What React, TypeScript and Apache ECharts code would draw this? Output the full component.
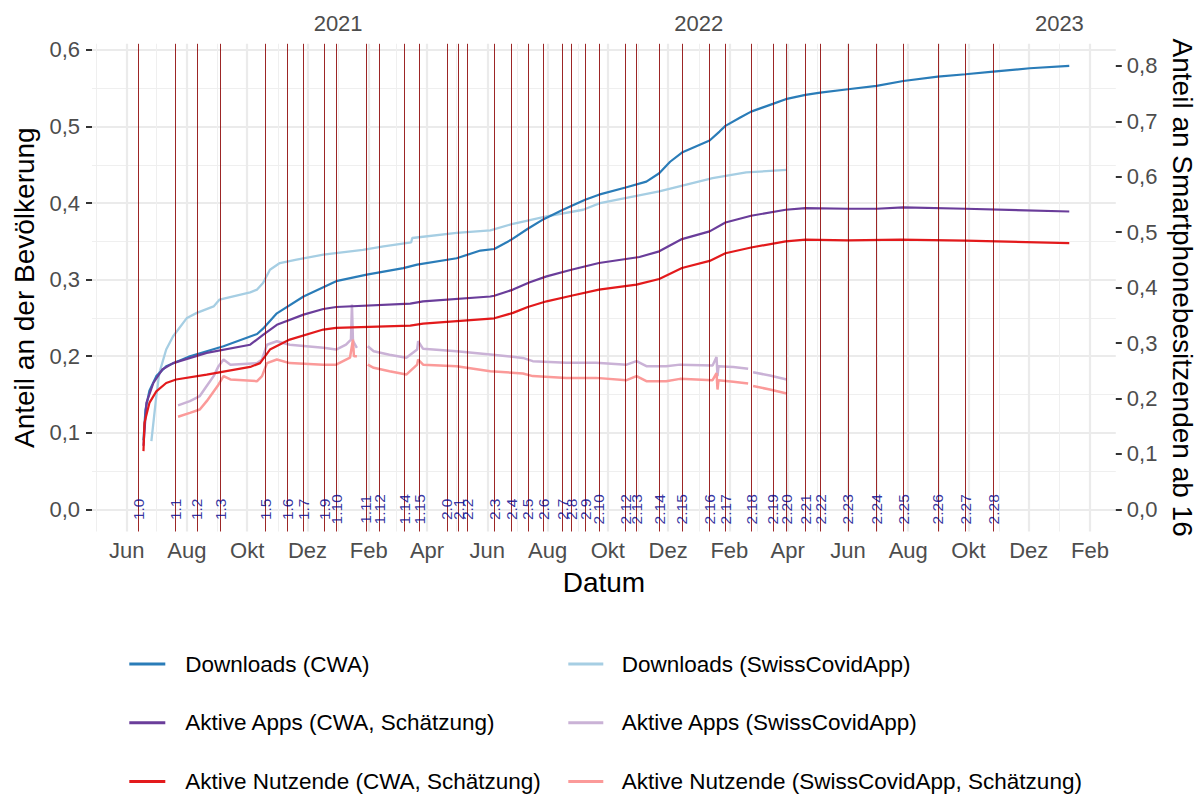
import React, { useEffect, useRef } from 'react';
import * as echarts from 'echarts';

// ---------- data ----------
const releaseDates = ['2020-06-13', '2020-07-20', '2020-08-11', '2020-09-04', '2020-10-19', '2020-11-11', '2020-11-27', '2020-12-18', '2020-12-30', '2021-01-29', '2021-02-12', '2021-03-09', '2021-03-24', '2021-04-21', '2021-05-03', '2021-05-12', '2021-06-08', '2021-06-25', '2021-07-12', '2021-07-28', '2021-08-16', '2021-08-25', '2021-09-08', '2021-09-22', '2021-10-19', '2021-10-30', '2021-11-22', '2021-12-15', '2022-01-12', '2022-01-28', '2022-02-23', '2022-03-17', '2022-03-31', '2022-04-19', '2022-05-04', '2022-06-01', '2022-06-30', '2022-07-27', '2022-08-31', '2022-09-28', '2022-10-26'];
const releaseLabels = ['1.0', '1.1', '1.2', '1.3', '1.5', '1.6', '1.7', '1.9', '1.10', '1.11', '1.12', '1.14', '1.15', '2.0', '2.1', '2.2', '2.3', '2.4', '2.5', '2.6', '2.7', '2.8', '2.9', '2.10', '2.12', '2.13', '2.14', '2.15', '2.16', '2.17', '2.18', '2.19', '2.20', '2.21', '2.22', '2.23', '2.24', '2.25', '2.26', '2.27', '2.28'];

type Pt = [string, number | null];

const downloadsCwa: Pt[] = [['2020-06-18', 0.09], ['2020-06-20', 0.13], ['2020-06-24', 0.155], ['2020-07-01', 0.174], ['2020-07-11', 0.187], ['2020-08-04', 0.2], ['2020-09-07', 0.213], ['2020-10-11', 0.229], ['2020-10-17', 0.236], ['2020-10-31', 0.256], ['2020-11-27', 0.278], ['2020-12-30', 0.298], ['2021-01-30', 0.3065], ['2021-03-08', 0.315], ['2021-03-22', 0.3196], ['2021-05-01', 0.328], ['2021-05-25', 0.338], ['2021-06-08', 0.34], ['2021-06-25', 0.352], ['2021-07-12', 0.3665], ['2021-07-28', 0.379], ['2021-08-16', 0.391], ['2021-09-08', 0.4043], ['2021-09-22', 0.411], ['2021-10-19', 0.4204], ['2021-11-09', 0.428], ['2021-11-22', 0.439], ['2021-12-03', 0.454], ['2021-12-15', 0.466], ['2022-01-12', 0.4817], ['2022-01-22', 0.4934], ['2022-01-28', 0.5009], ['2022-02-12', 0.5117], ['2022-02-23', 0.5195], ['2022-03-17', 0.5296], ['2022-03-30', 0.5357], ['2022-04-19', 0.5413], ['2022-05-04', 0.5443], ['2022-06-01', 0.5487], ['2022-06-30', 0.553], ['2022-07-27', 0.5595], ['2022-08-31', 0.5652], ['2022-09-28', 0.5683], ['2022-10-26', 0.5717], ['2022-12-02', 0.5761], ['2023-01-11', 0.5791]];

const downloadsSwiss: Pt[] = [['2020-06-26', 0.089], ['2020-07-01', 0.148], ['2020-07-04', 0.178], ['2020-07-11', 0.2087], ['2020-07-18', 0.226], ['2020-08-01', 0.25], ['2020-08-11', 0.2566], ['2020-08-28', 0.265], ['2020-09-03', 0.274], ['2020-10-04', 0.2834], ['2020-10-11', 0.287], ['2020-10-17', 0.2957], ['2020-10-24', 0.313], ['2020-11-03', 0.3217], ['2020-11-20', 0.326], ['2020-12-17', 0.3326], ['2021-01-26', 0.339], ['2021-02-16', 0.3435], ['2021-03-16', 0.3487], ['2021-03-17', 0.3544], ['2021-05-01', 0.361], ['2021-06-04', 0.3643], ['2021-06-27', 0.373], ['2021-07-31', 0.3826], ['2021-09-06', 0.3913], ['2021-09-23', 0.4], ['2021-11-22', 0.4152], ['2022-01-15', 0.4326], ['2022-02-18', 0.44], ['2022-03-31', 0.4435]];

const appsCwa: Pt[] = [['2020-06-18', 0.083], ['2020-06-21', 0.139], ['2020-06-28', 0.165], ['2020-07-07', 0.1826], ['2020-07-18', 0.191], ['2020-08-21', 0.2044], ['2020-10-04', 0.215], ['2020-10-17', 0.228], ['2020-10-31', 0.241], ['2020-11-27', 0.2543], ['2020-12-17', 0.2617], ['2020-12-30', 0.2643], ['2021-03-15', 0.2687], ['2021-03-28', 0.2717], ['2021-06-04', 0.278], ['2021-06-08', 0.279], ['2021-06-27', 0.287], ['2021-07-14', 0.2965], ['2021-07-31', 0.3043], ['2021-08-25', 0.313], ['2021-09-22', 0.3217], ['2021-11-02', 0.3296], ['2021-11-22', 0.337], ['2021-12-15', 0.353], ['2022-01-12', 0.363], ['2022-01-28', 0.3747], ['2022-02-23', 0.3835], ['2022-03-30', 0.3913], ['2022-04-19', 0.3935], ['2022-06-01', 0.3926], ['2022-06-30', 0.3926], ['2022-07-27', 0.3943], ['2022-09-28', 0.3926], ['2023-01-11', 0.389]];

const appsSwiss: Pt[] = [['2020-07-23', 0.1357], ['2020-08-04', 0.1413], ['2020-08-14', 0.148], ['2020-08-21', 0.161], ['2020-08-28', 0.174], ['2020-09-02', 0.187], ['2020-09-07', 0.1957], ['2020-09-14', 0.189], ['2020-10-11', 0.191], ['2020-10-16', 0.1957], ['2020-10-21', 0.215], ['2020-10-31', 0.2196], ['2020-11-13', 0.215], ['2020-12-17', 0.211], ['2020-12-30', 0.2087], ['2021-01-09', 0.215], ['2021-01-14', 0.2217], ['2021-01-15', 0.2674], ['2021-01-16', 0.22], ['2021-01-20', 0.211], ['2021-01-25', null], ['2021-01-31', 0.213], ['2021-02-06', 0.2065], ['2021-02-22', 0.202], ['2021-03-11', 0.198], ['2021-03-22', 0.2087], ['2021-03-23', 0.2196], ['2021-03-28', 0.2096], ['2021-05-01', 0.2065], ['2021-06-04', 0.2022], ['2021-07-07', 0.1978], ['2021-07-17', 0.1935], ['2021-08-20', 0.1913], ['2021-09-19', 0.1913], ['2021-10-20', 0.189], ['2021-10-30', 0.1935], ['2021-11-09', 0.187], ['2021-11-29', 0.187], ['2021-12-13', 0.189], ['2022-01-15', 0.1878], ['2022-01-19', 0.199], ['2022-01-20', 0.174], ['2022-01-21', 0.187], ['2022-02-05', 0.186], ['2022-02-20', 0.1835], ['2022-02-22', null], ['2022-02-25', 0.179], ['2022-03-14', 0.1748], ['2022-03-31', 0.1696]];

const usersCwa: Pt[] = [['2020-06-18', 0.076], ['2020-06-19', 0.113], ['2020-06-24', 0.139], ['2020-07-01', 0.154], ['2020-07-11', 0.165], ['2020-07-21', 0.1696], ['2020-08-21', 0.176], ['2020-10-04', 0.186], ['2020-10-14', 0.191], ['2020-10-24', 0.2087], ['2020-11-13', 0.2217], ['2020-12-17', 0.2348], ['2020-12-30', 0.237], ['2021-03-15', 0.24], ['2021-03-28', 0.2426], ['2021-06-08', 0.2495], ['2021-06-27', 0.2566], ['2021-07-12', 0.2643], ['2021-07-31', 0.2717], ['2021-08-25', 0.279], ['2021-09-22', 0.287], ['2021-10-30', 0.2935], ['2021-11-22', 0.3009], ['2021-12-15', 0.3152], ['2022-01-12', 0.3245], ['2022-01-28', 0.3345], ['2022-02-23', 0.342], ['2022-03-30', 0.35], ['2022-04-19', 0.3522], ['2022-06-01', 0.3513], ['2022-07-24', 0.3522], ['2022-09-28', 0.3509], ['2023-01-11', 0.3478]];

const usersSwiss: Pt[] = [['2020-07-23', 0.121], ['2020-08-04', 0.126], ['2020-08-14', 0.1304], ['2020-08-21', 0.1413], ['2020-09-01', 0.161], ['2020-09-07', 0.174], ['2020-09-14', 0.1696], ['2020-10-11', 0.1674], ['2020-10-16', 0.174], ['2020-10-21', 0.191], ['2020-10-31', 0.1957], ['2020-11-13', 0.191], ['2020-12-17', 0.189], ['2020-12-30', 0.189], ['2021-01-13', 0.198], ['2021-01-16', 0.2217], ['2021-01-17', 0.2], ['2021-01-20', 0.2], ['2021-01-25', null], ['2021-01-31', 0.189], ['2021-02-06', 0.1848], ['2021-02-22', 0.1804], ['2021-03-11', 0.176], ['2021-03-22', 0.189], ['2021-03-23', 0.1957], ['2021-03-28', 0.189], ['2021-05-01', 0.187], ['2021-06-04', 0.1804], ['2021-07-07', 0.1774], ['2021-07-17', 0.174], ['2021-08-20', 0.1717], ['2021-09-19', 0.1717], ['2021-10-20', 0.1687], ['2021-10-30', 0.174], ['2021-11-09', 0.1674], ['2021-11-29', 0.1674], ['2021-12-13', 0.1704], ['2022-01-15', 0.1687], ['2022-01-19', 0.178], ['2022-01-20', 0.1565], ['2022-01-21', 0.1687], ['2022-02-05', 0.1665], ['2022-02-20', 0.1643], ['2022-02-22', null], ['2022-02-25', 0.161], ['2022-03-14', 0.1565], ['2022-03-31', 0.1513]];

const majorMonthDates = ['2020-06-01', '2020-08-01', '2020-10-01', '2020-12-01', '2021-02-01', '2021-04-01', '2021-06-01', '2021-08-01', '2021-10-01', '2021-12-01', '2022-02-01', '2022-04-01', '2022-06-01', '2022-08-01', '2022-10-01', '2022-12-01', '2023-02-01'];
const majorMonthLabels = ['Jun', 'Aug', 'Okt', 'Dez', 'Feb', 'Apr', 'Jun', 'Aug', 'Okt', 'Dez', 'Feb', 'Apr', 'Jun', 'Aug', 'Okt', 'Dez', 'Feb'];
const minorMonthDates = ['2020-05-01', '2020-07-01', '2020-09-01', '2020-11-01', '2021-01-01', '2021-03-01', '2021-05-01', '2021-07-01', '2021-09-01', '2021-11-01', '2022-01-01', '2022-03-01', '2022-05-01', '2022-07-01', '2022-09-01', '2022-11-01', '2023-01-01'];
const yearDates = ['2021-01-01', '2022-01-01', '2023-01-01'];
const yearLabels = ['2021', '2022', '2023'];

const leftTicks = [0, 0.1, 0.2, 0.3, 0.4, 0.5, 0.6];
const leftMinorTicks = [0.05, 0.15, 0.25, 0.35, 0.45, 0.55];
const rightTicks = [0, 0.1, 0.2, 0.3, 0.4, 0.5, 0.6, 0.7, 0.8];
const smartphoneFactor = 1.3815; // right axis = left axis * factor

// ---------- helpers ----------
const EPOCH = Date.UTC(2021, 0, 1);
const dayOf = (s: string) => {
  const [y, m, d] = s.split('-').map(Number);
  return Math.round((Date.UTC(y, m - 1, d) - EPOCH) / 86400000);
};
const toSeries = (pts: Pt[]) => pts.map(([d, v]) => [dayOf(d), v == null ? '-' : v]);
const FONT = '"Liberation Sans", Arial, Helvetica, sans-serif';
const fmtComma = (v: number) => v.toFixed(1).replace('.', ',');

export default function App() {
  const ref = useRef<HTMLDivElement>(null);

  useEffect(() => {
    if (!ref.current) return;
    const chart = echarts.init(ref.current, undefined, { renderer: 'svg' });

    const releaseDays = releaseDates.map(dayOf);
    const allSeries = [downloadsCwa, downloadsSwiss, appsCwa, appsSwiss, usersCwa, usersSwiss];
    const allDays = [...releaseDays, ...allSeries.flatMap((s) => s.map((p) => dayOf(p[0])))];
    const dMin = Math.min(...allDays);
    const dMax = Math.max(...allDays);
    const xMin = dMin - 0.05 * (dMax - dMin);
    const xMax = dMax + 0.05 * (dMax - dMin);
    const allVals = allSeries.flatMap((s) => s.map((p) => p[1]).filter((v) => v != null)) as number[];
    const vMin = 0;
    const vMax = Math.max(...allVals);
    const yMin = vMin - 0.05 * (vMax - vMin);
    const yMax = vMax + 0.05 * (vMax - vMin);

    const majorDays = majorMonthDates.map(dayOf);
    const minorDays = minorMonthDates.map(dayOf);
    const yearDays = yearDates.map(dayOf);
    const monthLabelMap = new Map(majorDays.map((d, i) => [d, majorMonthLabels[i]]));
    const yearLabelMap = new Map(yearDays.map((d, i) => [d, yearLabels[i]]));

    const tickLabel = { color: '#4D4D4D', fontSize: 22, fontFamily: FONT };
    const titleStyle = { color: '#000000', fontSize: 28, fontFamily: FONT };
    const majorGrid = { show: true, lineStyle: { color: '#EBEBEB', width: 2.2 } };
    const minorGrid = { show: true, lineStyle: { color: '#EFEFEF', width: 1.1 } };
    const hidden = { show: false };
    const noLine = { show: false, onZero: false };
    const yTick = { show: true, length: 6, lineStyle: { color: '#333333', width: 2 } };

    const lineSeries = (name: string, data: Pt[], color: string, width: number) => ({
      type: 'line',
      name,
      data: toSeries(data),
      xAxisIndex: 0,
      yAxisIndex: 0,
      showSymbol: false,
      symbol: 'none',
      connectNulls: false,
      lineStyle: { color, width },
      itemStyle: { color },
      z: 3,
      silent: true,
    });

    const option: any = {
      animation: false,
      backgroundColor: '#FFFFFF',
      grid: { left: 92, top: 43.8, width: 1023.8, height: 487.7, containLabel: false, outerBoundsMode: 'none' },
      xAxis: [
        {
          type: 'value', min: xMin, max: xMax, position: 'bottom',
          axisLine: noLine,
          axisTick: { show: false, customValues: majorDays },
          axisLabel: { ...tickLabel, customValues: majorDays, margin: 8, formatter: (v: number) => monthLabelMap.get(Math.round(v)) ?? '' },
          splitLine: majorGrid,
          name: 'Datum', nameLocation: 'middle', nameGap: 37, nameTextStyle: titleStyle,
        },
        {
          type: 'value', min: xMin, max: xMax, position: 'bottom',
          axisLine: noLine, axisLabel: hidden,
          axisTick: { show: false, customValues: minorDays },
          splitLine: minorGrid,
        },
        {
          type: 'value', min: xMin, max: xMax, position: 'top',
          axisLine: noLine,
          axisTick: { show: false, customValues: yearDays },
          axisLabel: { ...tickLabel, customValues: yearDays, margin: 9, formatter: (v: number) => yearLabelMap.get(Math.round(v)) ?? '' },
          splitLine: hidden,
        },
      ],
      yAxis: [
        {
          type: 'value', min: yMin, max: yMax, position: 'left',
          axisLine: noLine,
          axisTick: { ...yTick, customValues: leftTicks },
          axisLabel: { ...tickLabel, customValues: leftTicks, margin: 12, formatter: fmtComma },
          splitLine: majorGrid,
          name: 'Anteil an der Bevölkerung', nameLocation: 'middle', nameGap: 52, nameTextStyle: titleStyle,
        },
        {
          type: 'value', min: yMin, max: yMax, position: 'left',
          axisLine: noLine, axisLabel: hidden,
          axisTick: { show: false, customValues: leftMinorTicks },
          splitLine: minorGrid,
        },
        {
          type: 'value', min: yMin * smartphoneFactor, max: yMax * smartphoneFactor, position: 'right',
          axisLine: noLine,
          axisTick: { ...yTick, customValues: rightTicks },
          axisLabel: { ...tickLabel, customValues: rightTicks, margin: 11, formatter: fmtComma },
          splitLine: hidden,
          name: 'Anteil an Smartphonebesitzenden ab 16', nameLocation: 'middle', nameRotate: -90, nameGap: 37, nameTextStyle: titleStyle,
        },
      ],
      legend: [
        {
          orient: 'vertical', left: 129.3, top: 651, padding: 0,
          itemWidth: 36, itemHeight: 3, itemGap: 32.7, icon: 'rect', selectedMode: false,
          data: ['Downloads (CWA)', 'Aktive Apps (CWA, Schätzung)', 'Aktive Nutzende (CWA, Schätzung)'],
          textStyle: { color: '#000000', fontSize: 22.5, lineHeight: 26, fontFamily: FONT, padding: [0, 0, 0, 15] },
        },
        {
          orient: 'vertical', left: 568.3, top: 651, padding: 0,
          itemWidth: 35, itemHeight: 3, itemGap: 32.7, icon: 'rect', selectedMode: false,
          data: ['Downloads (SwissCovidApp)', 'Aktive Apps (SwissCovidApp)', 'Aktive Nutzende (SwissCovidApp, Schätzung)'],
          textStyle: { color: '#000000', fontSize: 22.5, lineHeight: 26, fontFamily: FONT, padding: [0, 0, 0, 13.4] },
        },
      ],
      series: [
        {
          type: 'scatter', name: 'Releases', xAxisIndex: 0, yAxisIndex: 0,
          data: releaseDays.map((d) => [d, 0]), symbolSize: 0, silent: true, z: 1,
          markLine: {
            symbol: ['none', 'none'], silent: true, animation: false,
            label: { show: false },
            lineStyle: { color: '#8B0000', width: 1, type: 'solid', opacity: 0.85 },
            emphasis: { disabled: true },
            data: releaseDays.map((d) => ({ xAxis: d })),
          },
        },
        lineSeries('Downloads (SwissCovidApp)', downloadsSwiss, '#A6CEE3', 2.3),
        lineSeries('Aktive Apps (SwissCovidApp)', appsSwiss, '#CAB2D6', 2.5),
        lineSeries('Aktive Nutzende (SwissCovidApp, Schätzung)', usersSwiss, '#FB9A99', 2.5),
        lineSeries('Downloads (CWA)', downloadsCwa, '#2A7CB8', 2.2),
        lineSeries('Aktive Apps (CWA, Schätzung)', appsCwa, '#6A3D9A', 2.2),
        lineSeries('Aktive Nutzende (CWA, Schätzung)', usersCwa, '#E31A1C', 2.2),
        {
          type: 'scatter', name: 'Versionen', xAxisIndex: 0, yAxisIndex: 0,
          data: releaseDays.map((d, i) => ({ value: [d, 0], name: releaseLabels[i] })),
          symbolSize: 1, itemStyle: { color: 'rgba(0,0,0,0)' }, silent: true, z: 5,
          label: { show: true, position: 'inside', rotate: 90, formatter: '{b}', color: '#00008B', fontSize: 15.5, fontFamily: FONT },
        },
      ],
    };

    chart.setOption(option);
    return () => chart.dispose();
  }, []);

  return <div ref={ref} style={{ position: 'absolute', left: 0, top: 0, width: 1197, height: 796, background: '#fff' }} />;
}
